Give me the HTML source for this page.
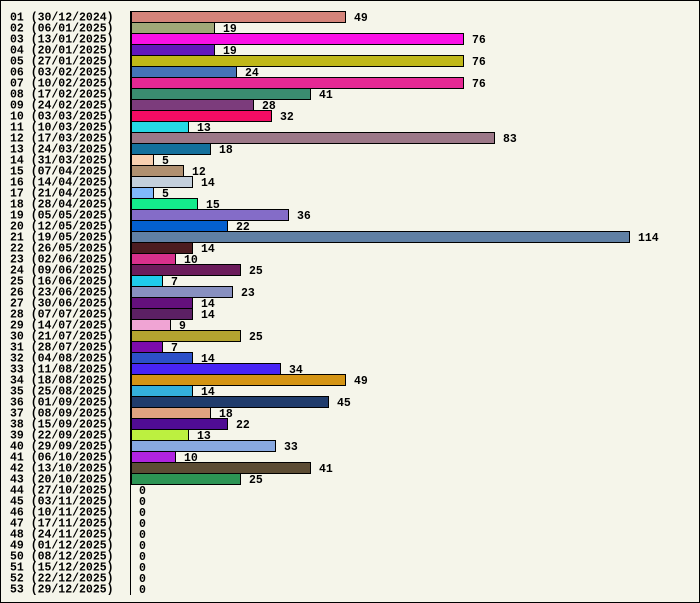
<!DOCTYPE html><html><head><style>body{margin:0;background:#f5f5ea}svg{display:block}text{font-family:"Liberation Mono","DejaVu Sans Mono",monospace;font-weight:bold;font-size:11.5px;fill:#000}</style></head><body>
<svg width="700" height="603" xmlns="http://www.w3.org/2000/svg" id="s">
<rect x="0.5" y="0.5" width="699" height="602" fill="#f5f5ea" stroke="#000"/>
<line x1="130.5" y1="11" x2="130.5" y2="595" stroke="#000"/>
</svg>
<script>
const d=[["30/12/2024",49,"#d4847a"],["06/01/2025",19,"#a0a878"],["13/01/2025",76,"#fa10e6"],["20/01/2025",19,"#6218bc"],["27/01/2025",76,"#c0b818"],["03/02/2025",24,"#4474b8"],["10/02/2025",76,"#e62894"],["17/02/2025",41,"#3a8c70"],["24/02/2025",28,"#7c3c7c"],["03/03/2025",32,"#f40c64"],["10/03/2025",13,"#26d8e4"],["17/03/2025",83,"#9c7888"],["24/03/2025",18,"#14709c"],["31/03/2025",5,"#f8d0b0"],["07/04/2025",12,"#b09070"],["14/04/2025",14,"#c4d0dc"],["21/04/2025",5,"#80b8fc"],["28/04/2025",15,"#14ec8c"],["05/05/2025",36,"#846cc8"],["12/05/2025",22,"#0460d0"],["19/05/2025",114,"#6080a4"],["26/05/2025",14,"#4c1c20"],["02/06/2025",10,"#d8308c"],["09/06/2025",25,"#6c1c5c"],["16/06/2025",7,"#20ccec"],["23/06/2025",23,"#8890c0"],["30/06/2025",14,"#64107c"],["07/07/2025",14,"#5c2064"],["14/07/2025",9,"#f0a4d4"],["21/07/2025",25,"#b4a430"],["28/07/2025",7,"#7c0cac"],["04/08/2025",14,"#2c50c8"],["11/08/2025",34,"#4824f4"],["18/08/2025",49,"#d49414"],["25/08/2025",14,"#34b0dc"],["01/09/2025",45,"#203c6c"],["08/09/2025",18,"#e0a480"],["15/09/2025",22,"#500c94"],["22/09/2025",13,"#bcf040"],["29/09/2025",33,"#88a8e0"],["06/10/2025",10,"#b024e0"],["13/10/2025",41,"#5c4c34"],["20/10/2025",25,"#2c9454"],["27/10/2025",0],["03/11/2025",0],["10/11/2025",0],["17/11/2025",0],["24/11/2025",0],["01/12/2025",0],["08/12/2025",0],["15/12/2025",0],["22/12/2025",0],["29/12/2025",0]];
const s=document.getElementById('s');let h='';
d.forEach((r,i)=>{const y=11+11*i;const n=String(i+1).padStart(2,'0');
h+=`<text x="10" y="${y+9.5}">${n} (${r[0]})</text>`;
const w=Math.round(r[1]*4.37);
if(w>0)h+=`<rect x="131.5" y="${y+0.5}" width="${w}" height="11" fill="${r[2]}" stroke="#000"/>`;
h+=`<text x="${w>0?131+w+9:139}" y="${y+10}">${r[1]}</text>`;});
s.insertAdjacentHTML('beforeend',h);
</script></body></html>
